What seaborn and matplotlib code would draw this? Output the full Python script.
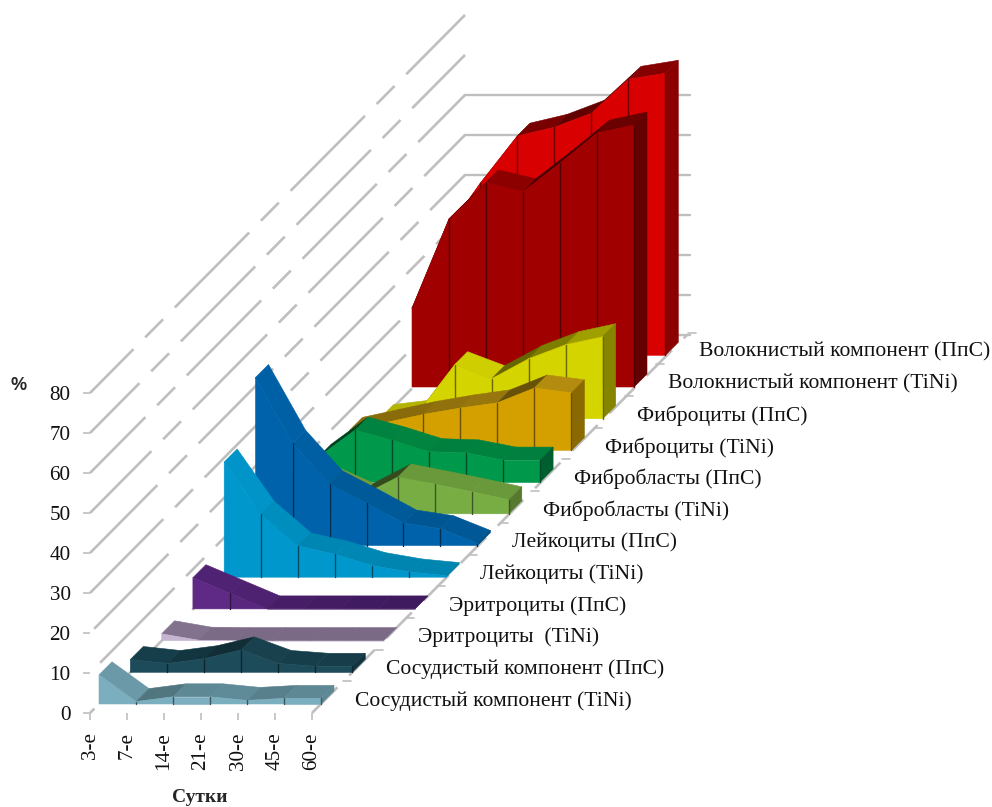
import numpy as np
import pandas as pd
import matplotlib.pyplot as plt
import seaborn as sns

days = ["3-е", "7-е", "14-е", "21-е", "30-е", "45-е", "60-е"]
levels = [0, 10, 20, 30, 40, 50, 60, 70, 80]

# front to back, in %
names = ["Сосудистый компонент (TiNi)", "Сосудистый компонент (ПпС)",
         "Эритроциты  (TiNi)", "Эритроциты (ПпС)",
         "Лейкоциты (TiNi)", "Лейкоциты (ПпС)",
         "Фибробласты (TiNi)", "Фибробласты (ПпС)",
         "Фиброциты (TiNi)", "Фиброциты (ПпС)",
         "Волокнистый компонент (TiNi)", "Волокнистый компонент (ПпС)"]
vessel_tini = [7.3, 0.6, 1.8, 1.8, 0.9, 1.4, 1.4]
vessel_pps = [3.2, 2.2, 3.4, 5.6, 2.2, 1.5, 1.5]
eryth_tini = [1.7, 0.1, 0, 0, 0, 0, 0]
eryth_pps = [7.8, 3.9, 0, 0, 0, 0, 0]
leuko_tini = [28.8, 15.7, 7.8, 5.7, 2.9, 1.3, 0.4]
leuko_pps = [42, 25.6, 15.4, 10.6, 5.6, 4.2, 0.5]
blast_tini = [9, 8.5, 4.4, 9.2, 7.4, 5.5, 3.5]
blast_pps = [6.2, 13, 10.5, 7.6, 7.3, 5.5, 5.5]
cyte_tini = [5, 7, 9, 10.6, 11.9, 15.6, 14.4]
cyte_pps = [0.3, 1.4, 13.5, 10, 15, 18.5, 20.5]
fiber_tini = [19.7, 42, 51, 48.8, 56, 63.5, 65.5]
fiber_pps = [30, 43, 54.8, 57, 60.5, 69, 70.5]
series = [vessel_tini, vessel_pps, eryth_tini, eryth_pps, leuko_tini, leuko_pps,
          blast_tini, blast_pps, cyte_tini, cyte_pps, fiber_tini, fiber_pps]

front_colors = ["#7BAEBE", "#1D4B5A", "#C4B6D2", "#5F2A85", "#0097CC", "#0062AA",
                "#77AD42", "#00984A", "#D4A000", "#D4D400", "#A00000", "#D80000"]
front_end_colors = ["#7BAEBE", "#1D4B5A", "#C4B6D2", "#451C62", "#0097CC", "#0062AA",
                    "#77AD42", "#00984A", "#D4A000", "#D4D400", "#A00000", "#D80000"]
top_colors = ["#5D8894", "#163D49", "#7A6A86", "#4A1F6C", "#0083AE", "#00558F",
              "#68963A", "#007F3E", "#B08A10", "#CCCC00", "#8A0000", "#A00000"]
side_colors = ["#5D8894", "#123440", "#8A7A96", "#3F1A5E", "#007BA3", "#004C80",
               "#56792F", "#005F2E", "#8A6A00", "#858500", "#640000", "#8B0000"]

sns.set_theme(style="white")
plt.rcParams["font.family"] = ["Liberation Serif", "DejaVu Serif"]
plt.rcParams["lines.scale_dashes"] = False

fig = plt.figure(figsize=(9.92, 8.07), dpi=100)
# axes box is the front wall: 37 px per day, 4 px per percent
ax = fig.add_axes([90 / 992, (807 - 713) / 807, 222 / 992, 320 / 807])
ax.set_xlim(0, 6)
ax.set_ylim(0, 80)
ax.set_autoscale_on(False)

PX_X = 37.0
PX_Y = 4.0
GRID = "#BFBFBF"


def shift(xs, ys, px, py):
    return np.asarray(xs, float) + px / PX_X, np.asarray(ys, float) + py / PX_Y


def mix(c1, c2, t):
    a = np.array(plt.matplotlib.colors.to_rgb(c1))
    b = np.array(plt.matplotlib.colors.to_rgb(c2))
    return tuple(a * (1 - t) + b * t)


def poly(xs, ys, color, z):
    ax.fill(xs, ys, facecolor=color, edgecolor=color, lw=0.4, clip_on=False, zorder=z)


# side wall gridlines, dashed with the phase sliding per level
for lev in levels:
    xs, ys = shift([0, 0], [lev, lev], 0, 0)
    xb, yb = shift([0], [lev], 375, 378)
    start = 293 + (80 - lev) * 0.6
    off = ((90 - start) % 117) * 1.414 * 0.72
    sns.lineplot(x=[xs[0], xb[0]], y=[ys[0], yb[0]], ax=ax, color=GRID, lw=1.9, sort=False,
                 estimator=None, linestyle=(off, (76, 12, 18.3, 12)), clip_on=False, zorder=1)
    if lev <= 60:
        sns.lineplot(x=[xb[0], xb[0] + 225 / PX_X], y=[yb[0], yb[0]], ax=ax, color=GRID, lw=1.7,
                     sort=False, estimator=None, clip_on=False, zorder=1)

# floor edge on the right with a tick per series
xs, ys = shift([6], [0], 0, 0)
xb, yb = shift([6], [0], 375, 378)
sns.lineplot(x=[xs[0], xb[0]], y=[ys[0], yb[0]], ax=ax, color=GRID, lw=1.9, sort=False, estimator=None,
             linestyle=(0, (26, 12, 26, 12)), clip_on=False, zorder=1)
for s in range(1, 13):
    xt, yt = shift([6, 6], [0, 0], s * 31.3, s * 31.7)
    ax.plot([xt[0], xt[0] + 8 / PX_X], [yt[0], yt[0]], color=GRID, lw=1.2, clip_on=False, zorder=1)

# series back to front
k = np.arange(len(days))
for s in range(len(series) - 1, -1, -1):
    v = np.array(series[s], float)
    base = 10 + (len(series) - s) * 10
    fx, fy = shift(k, v, 9 + s * 31.3, 9 + s * 31.7)
    f0x, f0y = shift(k, np.zeros(len(k)), 9 + s * 31.3, 9 + s * 31.7)
    bx, by = shift(k, v, 9 + s * 31.3 + 13, 9 + s * 31.7 + 13)
    b0x, b0y = shift(k, np.zeros(len(k)), 9 + s * 31.3 + 13, 9 + s * 31.7 + 13)
    for i in range(len(k) - 1):
        rise = (v[i + 1] - v[i]) * PX_Y
        seg_top = mix(top_colors[s], side_colors[s] if s == 3 else top_colors[s], i / 5)
        if rise > 0:
            col = mix(seg_top, "#000000", min(rise / 18, 1) * 0.5)
        else:
            col = mix(seg_top, front_colors[s], min(-rise / 50, 1) * 0.85)
        poly([fx[i], fx[i + 1], bx[i + 1], bx[i]], [fy[i], fy[i + 1], by[i + 1], by[i]], col, base)
    poly([fx[-1], bx[-1], b0x[-1], f0x[-1]], [fy[-1], by[-1], b0y[-1], f0y[-1]], side_colors[s], base + 1)
    for i in range(len(k) - 1):
        col = mix(front_colors[s], front_end_colors[s], i / 5)
        poly([fx[i], fx[i + 1], f0x[i + 1], f0x[i]], [fy[i], fy[i + 1], f0y[i + 1], f0y[i]], col, base + 2)
    for i in range(1, len(k)):
        if v[i] > 0.4:
            ax.plot([fx[i], fx[i]], [f0y[i], fy[i]], color=mix(front_colors[s], "#000000", 0.5),
                    lw=1.0, clip_on=False, zorder=base + 3)
    lx, ly = shift([6], [0], 9 + s * 31.3 + 34, 9 + s * 31.7 + 3)
    ax.text(lx[0], ly[0], names[s], fontsize=15.6, color="#111111", ha="left", va="center", zorder=300)

ax.set_xticks(k)
ax.set_xticklabels(days, rotation=90, fontsize=15.2, color="#111111")
ax.set_yticks(levels)
ax.set_yticklabels(levels, fontsize=15.2, color="#111111")
ax.tick_params(axis="x", length=5, width=1.2, color=GRID, pad=9, bottom=True)
ax.tick_params(axis="y", length=5, width=1.2, color=GRID, pad=9, left=True)
ax.set_xlabel("Сутки", fontsize=14, fontweight="bold", va="center")
ax.xaxis.set_label_coords(0.495, -0.2625)
ax.set_ylabel("%", rotation=0, fontsize=13, fontweight="bold", family="Liberation Sans", va="center", ha="center")
ax.yaxis.set_label_coords(-0.324, 1.025)
sns.despine(ax=ax, left=True, bottom=True)
ax.patch.set_alpha(0)

fig.savefig("out.png", dpi=100)
